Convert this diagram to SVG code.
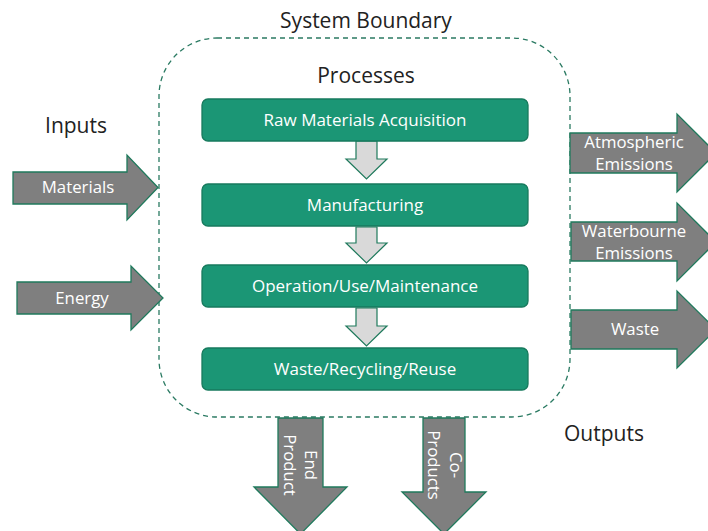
<svg xmlns="http://www.w3.org/2000/svg" width="708" height="531" viewBox="0 0 708 531">
<style>
.lbl{font-family:"Open Sans","Liberation Sans",sans-serif;fill:#222;font-size:21px;text-anchor:middle}
.box{fill:#1b9675;stroke:#177a5d;stroke-width:1.3}
.btxt{font-family:"Open Sans","Liberation Sans",sans-serif;fill:#fff;font-size:17px;text-anchor:middle}
.big{fill:#7f7f7f;stroke:#1f7a5c;stroke-width:1.3}
.small{fill:#d9d9d9;stroke:#1f7a5c;stroke-width:1.2}
.atxt{font-family:"Open Sans","Liberation Sans",sans-serif;fill:#fff;font-size:16.8px;text-anchor:middle}
.bound{fill:none;stroke:#2a7a62;stroke-width:1.3;stroke-dasharray:5 4}
</style>
<rect x="0" y="0" width="708" height="531" fill="#fff"/>
<g id="boundary">
<rect class="bound" x="159" y="38" width="411" height="379" rx="58" ry="58"/>
<text class="lbl" x="366" y="28">System Boundary</text>
<text class="lbl" x="366" y="83">Processes</text>
</g>
<text class="lbl" x="76" y="133">Inputs</text>
<text class="lbl" x="604" y="441">Outputs</text>
<g id="connectors">
<polygon class="small" points="356,141 377,141 377,159 387,159 366.5,179 346,159 356,159"/>
<polygon class="small" points="356,227 377,227 377,243 387,243 366.5,263 346,243 356,243"/>
<polygon class="small" points="356,308 377,308 377,326 387,326 366.5,346 346,326 356,326"/>
</g>
<g id="raw">
<rect class="box" x="202" y="99" width="326" height="42" rx="6"/>
<text class="btxt" x="365" y="126">Raw Materials Acquisition</text>
</g>
<g id="manufacturing">
<rect class="box" x="202" y="184" width="326" height="42" rx="6"/>
<text class="btxt" x="365" y="211">Manufacturing</text>
</g>
<g id="operation">
<rect class="box" x="202" y="265" width="326" height="42" rx="6"/>
<text class="btxt" x="365" y="292">Operation/Use/Maintenance</text>
</g>
<g id="waste-recycling">
<rect class="box" x="202" y="348" width="326" height="42" rx="6"/>
<text class="btxt" x="365" y="375">Waste/Recycling/Reuse</text>
</g>
<g id="materials">
<polygon class="big" points="13,172 127,172 127,155 158,187.5 127,220 127,204 13,204"/>
<text class="atxt" x="78" y="193">Materials</text>
</g>
<g id="energy">
<polygon class="big" points="17,282 131,282 131,266 163,298 131,330 131,314 17,314"/>
<text class="atxt" x="82" y="304">Energy</text>
</g>
<g id="atmospheric">
<polygon class="big" points="570,133 677,133 677,114 716,153 677,192 677,173 570,173"/>
<text class="atxt" x="634" y="148">Atmospheric</text>
<text class="atxt" x="634" y="170">Emissions</text>
</g>
<g id="waterbourne">
<polygon class="big" points="571,222 677,222 677,203 716,242 677,281 677,261 571,261"/>
<text class="atxt" x="634" y="237">Waterbourne</text>
<text class="atxt" x="634" y="259">Emissions</text>
</g>
<g id="waste">
<polygon class="big" points="571,310 677,310 677,291 716,329.5 677,368 677,349 571,349"/>
<text class="atxt" x="635" y="335">Waste</text>
</g>
<g id="end-product">
<polygon class="big" points="278,418 323,418 323,487 347,487 300.5,534 254,487 278,487"/>
<g transform="translate(300,465) rotate(90)">
<text class="atxt" x="0" y="-5">End</text>
<text class="atxt" x="0" y="16">Product</text>
</g>
</g>
<g id="co-products">
<polygon class="big" points="423,418 465,418 465,492 486,492 444,534 402,492 423,492"/>
<g transform="translate(444,465) rotate(90)">
<text class="atxt" x="0" y="-6">Co-</text>
<text class="atxt" x="0" y="16">Products</text>
</g>
</g>
</svg>
